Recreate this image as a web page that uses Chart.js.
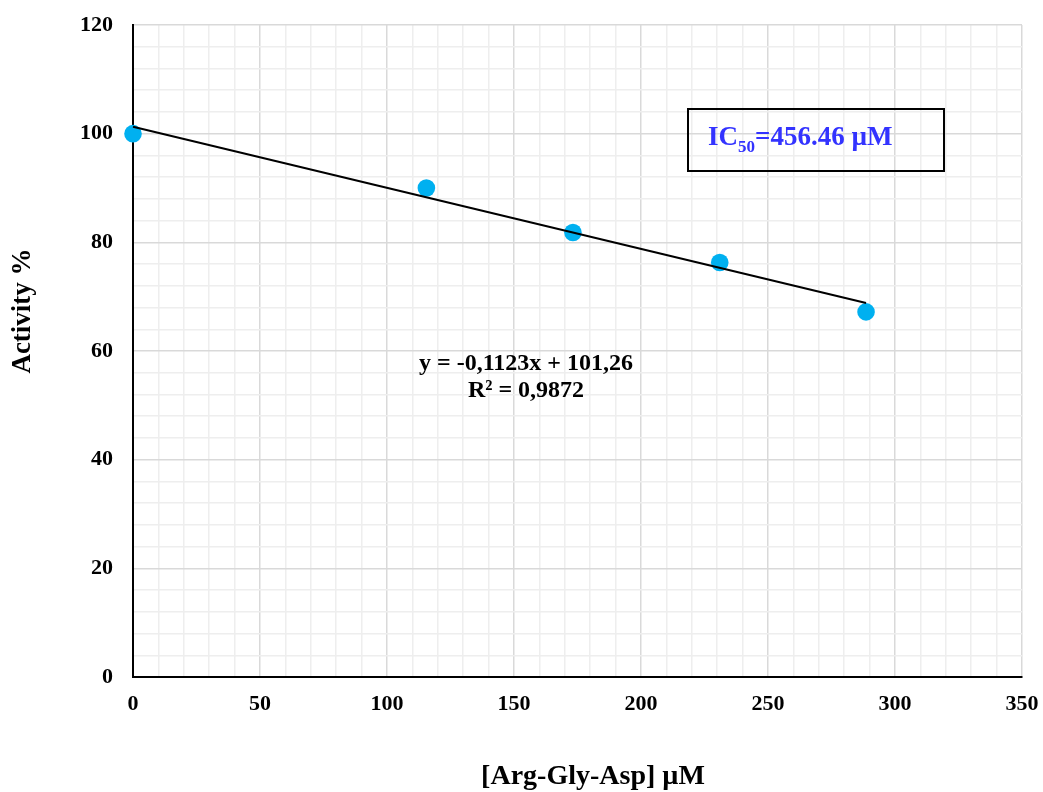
<!DOCTYPE html>
<html>
<head>
<meta charset="utf-8">
<script src="https://cdn.jsdelivr.net/npm/chart.js@4/dist/chart.umd.min.js"></script>
<style>
  html, body { margin: 0; padding: 0; background: #fff; }
  #wrap { width: 1043px; height: 792px; }
</style>
</head>
<body>
<div id="wrap"><canvas id="chart"></canvas></div>
<script>
// data
const concentrations = [0, 115.5, 173.2, 231, 288.6];
const activity = [100, 90, 81.8, 76.3, 67.2];
const trendX = [0, 288.6];
const trendY = [101.26, 68.85];
const xTicks = [0, 50, 100, 150, 200, 250, 300, 350];
const yTicks = [0, 20, 40, 60, 80, 100, 120];
const xTitle = '[Arg-Gly-Asp] µM';
const yTitle = 'Activity %';
const equationLines = ['y = -0,1123x + 101,26', 'R² = 0,9872'];
const icLabel = ['IC', '50', '=456.46 µM'];

const serif = "'Liberation Serif', 'Times New Roman', serif";

// axis titles, regression equation and IC50 box
const notesPlugin = {
  id: 'notes',
  afterDatasetsDraw(chart) {
    const ctx = chart.ctx;
    ctx.save();
    ctx.fillStyle = '#000';
    ctx.textAlign = 'center';
    ctx.textBaseline = 'alphabetic';

    ctx.font = 'bold 28px ' + serif;
    ctx.fillText(xTitle, 593, 784);

    ctx.save();
    ctx.translate(23, 311);
    ctx.rotate(-Math.PI / 2);
    ctx.textBaseline = 'middle';
    ctx.font = 'bold 27px ' + serif;
    ctx.fillText(yTitle, 0, 0);
    ctx.restore();

    ctx.font = 'bold 24px ' + serif;
    ctx.fillText(equationLines[0], 526, 370);
    ctx.fillText(equationLines[1], 526, 397);

    // IC50 box
    ctx.strokeStyle = '#000';
    ctx.lineWidth = 2;
    ctx.strokeRect(688, 109, 256, 62);
    ctx.fillStyle = '#3333FF';
    ctx.textAlign = 'left';
    let x = 708;
    ctx.font = 'bold 27px ' + serif;
    ctx.fillText(icLabel[0], x, 145);
    x += ctx.measureText(icLabel[0]).width;
    ctx.font = 'bold 17px ' + serif;
    ctx.fillText(icLabel[1], x, 152);
    x += ctx.measureText(icLabel[1]).width;
    ctx.font = 'bold 27px ' + serif;
    ctx.fillText(icLabel[2], x, 145);
    ctx.restore();
  }
};

new Chart(document.getElementById('chart'), {
  type: 'scatter',
  data: {
    datasets: [
      {
        type: 'line',
        label: 'trend',
        data: trendX.map((x, i) => ({ x: x, y: trendY[i] })),
        borderColor: '#000',
        borderWidth: 2,
        pointRadius: 0,
        fill: false,
        clip: false,
        order: 0
      },
      {
        label: 'activity',
        data: concentrations.map((x, i) => ({ x: x, y: activity[i] })),
        backgroundColor: '#00B0F0',
        borderWidth: 0,
        pointRadius: 8.8,
        clip: false,
        order: 1
      }
    ]
  },
  options: {
    responsive: true,
    maintainAspectRatio: false,
    animation: false,
    layout: { padding: { left: 0, top: 25, right: 21, bottom: 0 } },
    plugins: {
      legend: { display: false },
      tooltip: { enabled: false }
    },
    scales: {
      x: {
        type: 'linear',
        min: 0,
        max: 350,
        afterFit(scale) {
          scale.height = 115;
          scale.paddingLeft = 0;
          scale.paddingRight = 0;
        },
        afterBuildTicks(scale) {
          const t = [];
          for (let v = 0; v <= 350; v += 10) t.push({ value: v });
          scale.ticks = t;
        },
        ticks: {
          autoSkip: false,
          maxRotation: 0,
          padding: 14,
          color: '#000',
          font: { family: serif, size: 22, weight: 'bold' },
          callback: v => xTicks.includes(v) ? String(v) : ''
        },
        grid: {
          drawTicks: false,
          color: c => c.tick && c.tick.value % 50 === 0 ? '#d9d9d9' : '#eeeeee',
          lineWidth: 1.5
        },
        border: { color: '#000', width: 2 }
      },
      y: {
        type: 'linear',
        min: 0,
        max: 120,
        afterFit(scale) {
          scale.width = 133;
          scale.paddingTop = 0;
          scale.paddingBottom = 0;
        },
        afterBuildTicks(scale) {
          const t = [];
          for (let v = 0; v <= 120; v += 4) t.push({ value: v });
          scale.ticks = t;
        },
        ticks: {
          autoSkip: false,
          padding: 20,
          color: '#000',
          font: { family: serif, size: 22, weight: 'bold' },
          callback: v => yTicks.includes(v) ? String(v) : ''
        },
        grid: {
          drawTicks: false,
          color: c => c.tick && c.tick.value % 20 === 0 ? '#d9d9d9' : '#eeeeee',
          lineWidth: 1.5
        },
        border: { color: '#000', width: 2 }
      }
    }
  },
  plugins: [notesPlugin]
});
</script>
</body>
</html>
